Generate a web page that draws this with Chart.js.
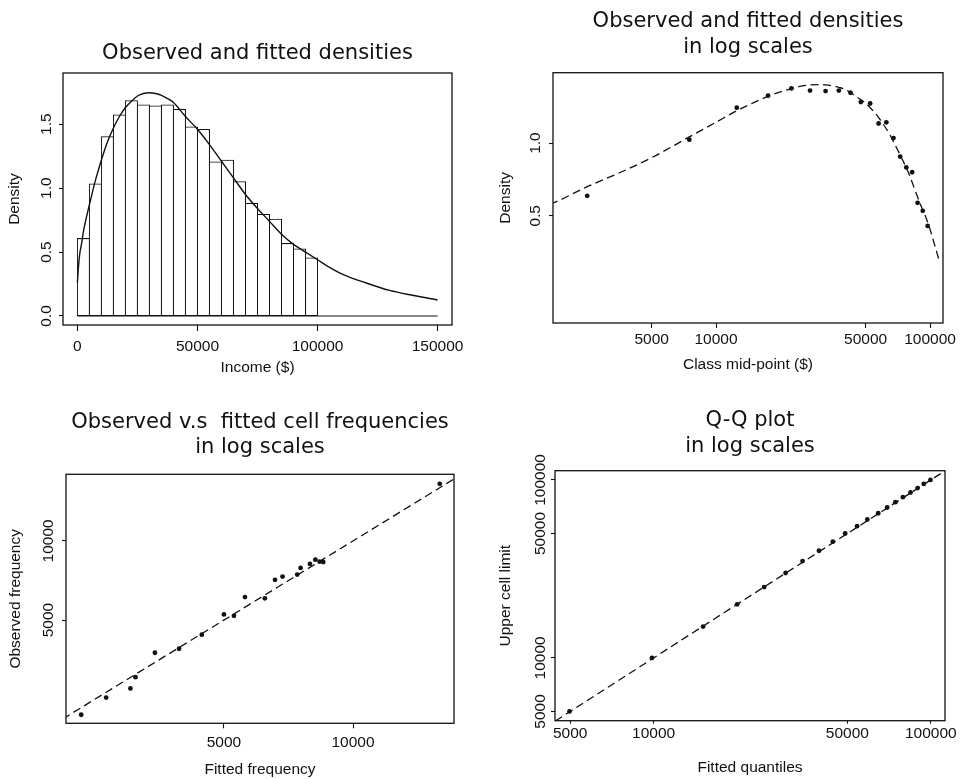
<!DOCTYPE html>
<html>
<head>
<meta charset="utf-8">
<title>Observed and fitted densities</title>
<script src="https://cdn.jsdelivr.net/npm/chart.js@4.4.0/dist/chart.umd.min.js"></script>
<style>
  html, body { margin: 0; padding: 0; background: #fff; }
  .panel { position: absolute; }
  #p1 { left: 0; top: 0; width: 482px; height: 380px; }
  #p2 { left: 482px; top: 0; width: 483px; height: 380px; }
  #p3 { left: 0; top: 380px; width: 482px; height: 399px; }
  #p4 { left: 482px; top: 380px; width: 483px; height: 399px; }
</style>
</head>
<body>
<div class="panel" id="p1"><canvas id="c1"></canvas></div>
<div class="panel" id="p2"><canvas id="c2"></canvas></div>
<div class="panel" id="p3"><canvas id="c3"></canvas></div>
<div class="panel" id="p4"><canvas id="c4"></canvas></div>
<script>
// income cells ($5000 wide), mid-points and observed densities (x 1e-5)
var cellMid = [2500, 7500, 12500, 17500, 22500, 27500, 32500, 37500, 42500, 47500,
               52500, 57500, 62500, 67500, 72500, 77500, 82500, 87500, 92500, 97500];
var cellDensity = [0.605, 1.033, 1.401, 1.571, 1.683, 1.649, 1.641, 1.649, 1.615, 1.477,
                   1.458, 1.205, 1.218, 1.049, 0.879, 0.793, 0.757, 0.566, 0.524, 0.454];

// fitted density curve
var fitIncome = [0, 500, 1000, 1730, 2500, 3500, 5000, 7500, 10000, 12500, 15000, 17500, 20000,
                 22500, 25000, 27500, 30000, 32500, 35000, 37500, 40000, 45000, 50000, 55000,
                 60000, 65000, 70000, 75000, 80000, 85000, 90000, 95000, 100000, 105000, 110000,
                 120000, 130000, 140000, 150000];
var fitDensity = [0.26, 0.40, 0.49, 0.565, 0.66, 0.75, 0.87, 1.06, 1.22, 1.36, 1.47, 1.56, 1.63,
                  1.68, 1.72, 1.74, 1.745, 1.74, 1.725, 1.70, 1.67, 1.56, 1.46, 1.34,
                  1.21, 1.08, 0.95, 0.84, 0.74, 0.64, 0.56, 0.50, 0.44, 0.38, 0.33,
                  0.26, 0.20, 0.16, 0.125];

// cell frequencies
var fittedFreq = [2323, 2656, 3026, 3109, 3451, 3929, 4440, 5000, 5276, 5598,
                  6230, 6578, 6849, 7412, 7547, 7936, 8170, 8357, 8523, 15930];
var observedFreq = [2182, 2536, 2749, 3032, 3756, 3889, 4401, 5252, 5189, 6118,
                    6048, 7112, 7318, 7447, 7895, 8172, 8482, 8336, 8312, 16490];

// Q-Q plot
var fittedQuantile = [4970, 9860, 15080, 20010, 25050, 29920, 34450, 39480, 44300, 49100,
                      54200, 59000, 64600, 69600, 74500, 79300, 84500, 89600, 94300, 99700];
var upperLimit = [5000, 10000, 15000, 20000, 25000, 30000, 35000, 40000, 45000, 50000,
                  55000, 60000, 65000, 70000, 75000, 80000, 85000, 90000, 95000, 100000];

var diagonal = [1000, 200000];

// tick values / labels
var densTicks = [0, 0.5, 1, 1.5], densLabels = ['0.0', '0.5', '1.0', '1.5'];
var incomeTicks = [0, 50000, 100000, 150000], incomeLabels = ['0', '50000', '100000', '150000'];
var logDensTicks = [0.5, 1], logDensLabels = ['0.5', '1.0'];
var midTicks = [5000, 10000, 50000, 100000], midLabels = ['5000', '10000', '50000', '100000'];
var freqTicks = [5000, 10000], freqLabels = ['5000', '10000'];
var qTicks = [5000, 10000, 50000, 100000], qLabels = ['5000', '10000', '50000', '100000'];

var INK = '#111';
Chart.defaults.font.family = "'Liberation Sans', Arial, sans-serif";
Chart.defaults.color = INK;
Chart.defaults.animation = false;

// box round the plot region
var framePlugin = {
    id: 'frame',
    afterDatasetsDraw: function (chart) {
        var a = chart.chartArea, ctx = chart.ctx;
        ctx.save();
        ctx.strokeStyle = INK;
        ctx.lineWidth = 1.3;
        ctx.strokeRect(a.left, a.top, a.right - a.left, a.bottom - a.top);
        ctx.restore();
    }
};

function pairs(xs, ys) {
    return xs.map(function (x, i) { return {x: x, y: ys[i]}; });
}

function xAxis(o) {
    return {
        type: o.type, min: o.min, max: o.max, bounds: 'data', offset: false,
        afterBuildTicks: function (s) { s.ticks = o.ticks.map(function (v) { return {value: v}; }); },
        afterFit: function (s) { s.height = o.size; s.paddingLeft = 0; s.paddingRight = 0; },
        grid: { drawOnChartArea: false, drawTicks: true, tickLength: o.tl, tickColor: INK, tickWidth: 1.1, offset: false },
        border: { display: false },
        ticks: {
            padding: o.pad, maxRotation: 0, autoSkip: false, color: INK, font: {size: 15.5},
            callback: function (v, i) { return o.labels[i]; }
        },
        title: { display: true, text: o.title, color: INK, font: {size: 15.5}, padding: {top: 0, bottom: o.titlePad} }
    };
}

function yAxis(o) {
    return {
        type: o.type, min: o.min, max: o.max, bounds: 'data',
        afterBuildTicks: function (s) { s.ticks = o.ticks.map(function (v) { return {value: v}; }); },
        afterFit: function (s) { s.width = o.size; s.paddingTop = 0; s.paddingBottom = 0; },
        grid: { drawOnChartArea: false, drawTicks: true, tickLength: 4, tickColor: INK, tickWidth: 1.1 },
        border: { display: false },
        ticks: {
            padding: o.pad, minRotation: 90, maxRotation: 90, crossAlign: 'center', autoSkip: false,
            color: INK, font: {size: 15.5},
            callback: function (v, i) { return o.labels[i]; }
        },
        title: { display: true, text: o.title, color: INK, font: {size: 15.5}, padding: {top: o.titlePad, bottom: 0} }
    };
}

function plotTitle(text, top, bottom) {
    return {
        display: true, text: text, fullSize: false, color: INK,
        font: {family: "'DejaVu Sans', sans-serif", size: 21, weight: 'normal', lineHeight: 1.2},
        padding: {top: top, bottom: bottom}
    };
}

function baseOptions(title, right, x, y) {
    return {
        responsive: true, maintainAspectRatio: false,
        layout: { padding: {left: 0, right: right, top: 0, bottom: 0} },
        plugins: { legend: {display: false}, tooltip: {enabled: false}, title: title },
        scales: { x: x, y: y }
    };
}

var dots = { pointRadius: 2.4, pointBackgroundColor: INK, pointBorderWidth: 0, showLine: false };

//Histogram ===========================================================================================
new Chart(document.getElementById('c1'), {
    type: 'bar',
    data: {
        datasets: [
            {
                type: 'line', data: pairs(fitIncome, fitDensity), borderColor: INK, borderWidth: 1.4,
                pointRadius: 0, cubicInterpolationMode: 'monotone', order: 0
            },
            {
                type: 'line', data: pairs([0, 150000], [0, 0]), borderColor: INK, borderWidth: 1.1,
                pointRadius: 0, order: 1
            },
            {
                type: 'bar', data: pairs(cellMid, cellDensity), backgroundColor: '#fff', borderColor: INK,
                borderWidth: 1, inflateAmount: 0.5, borderSkipped: false,
                barPercentage: 1, categoryPercentage: 1, order: 2
            }
        ]
    },
    options: baseOptions(plotTitle('Observed and fitted densities', 40.8, 7), 30,
        xAxis({type: 'linear', min: -6000, max: 156000, ticks: incomeTicks, labels: incomeLabels,
               size: 55, tl: 6, pad: 6.3, title: 'Income ($)', titlePad: 3}),
        yAxis({type: 'linear', min: -0.0704, max: 1.90, ticks: densTicks, labels: densLabels,
               size: 63, pad: 1.5, title: 'Density', titlePad: 5.1})),
    plugins: [framePlugin]
});

//Log densities =======================================================================================
var logFit = pairs(fitIncome, fitDensity).filter(function (p) { return p.x > 0 && p.x <= 110000; });

new Chart(document.getElementById('c2'), {
    type: 'scatter',
    data: {
        datasets: [
            Object.assign({data: pairs(cellMid, cellDensity)}, dots),
            {
                data: logFit, showLine: true, borderColor: INK, borderWidth: 1.3, borderDash: [8, 4.5],
                pointRadius: 0, cubicInterpolationMode: 'monotone'
            }
        ]
    },
    options: baseOptions(plotTitle(['Observed and fitted densities', 'in log scales'], 9.4, 12.9), 22,
        xAxis({type: 'logarithmic', min: 1730, max: 115000, ticks: midTicks, labels: midLabels,
               size: 57, tl: 5, pad: 2.3, title: 'Class mid-point ($)', titlePad: 6}),
        yAxis({type: 'logarithmic', min: 0.18, max: 1.955, ticks: logDensTicks, labels: logDensLabels,
               size: 71, pad: 2.4, title: 'Density', titlePad: 14.3})),
    plugins: [framePlugin]
});

//Cell frequencies ====================================================================================
new Chart(document.getElementById('c3'), {
    type: 'scatter',
    data: {
        datasets: [
            Object.assign({data: pairs(fittedFreq, observedFreq)}, dots),
            {
                data: pairs(diagonal, diagonal), showLine: true, borderColor: INK, borderWidth: 1.3,
                borderDash: [8, 4.5], pointRadius: 0
            }
        ]
    },
    options: baseOptions(plotTitle(['Observed v.s  fitted cell frequencies', 'in log scales'], 30.1, 13.8), 28,
        xAxis({type: 'logarithmic', min: 2141, max: 17200, ticks: freqTicks, labels: freqLabels,
               size: 55.7, tl: 5, pad: 5.3, title: 'Fitted frequency', titlePad: 0}),
        yAxis({type: 'logarithmic', min: 2025, max: 17920, ticks: freqTicks, labels: freqLabels,
               size: 66, pad: -8.5, title: 'Observed frequency', titlePad: 6.3})),
    plugins: [framePlugin]
});

//Q-Q plot ============================================================================================
new Chart(document.getElementById('c4'), {
    type: 'scatter',
    data: {
        datasets: [
            Object.assign({data: pairs(fittedQuantile, upperLimit)}, dots),
            {
                data: pairs(diagonal, diagonal), showLine: true, borderColor: INK, borderWidth: 1.3,
                borderDash: [8, 4.5], pointRadius: 0
            }
        ]
    },
    options: baseOptions(plotTitle(['Q-Q plot', 'in log scales'], 28.4, 11.9), 20,
        xAxis({type: 'logarithmic', min: 4406, max: 112500, ticks: qTicks, labels: qLabels,
               size: 58.3, tl: 3, pad: 0.9, title: 'Fitted quantiles', titlePad: 1.8}),
        yAxis({type: 'logarithmic', min: 4436, max: 112700, ticks: qTicks, labels: qLabels,
               size: 73, pad: -15.6, title: 'Upper cell limit', titlePad: 14.8})),
    plugins: [framePlugin]
});
</script>
</body>
</html>
